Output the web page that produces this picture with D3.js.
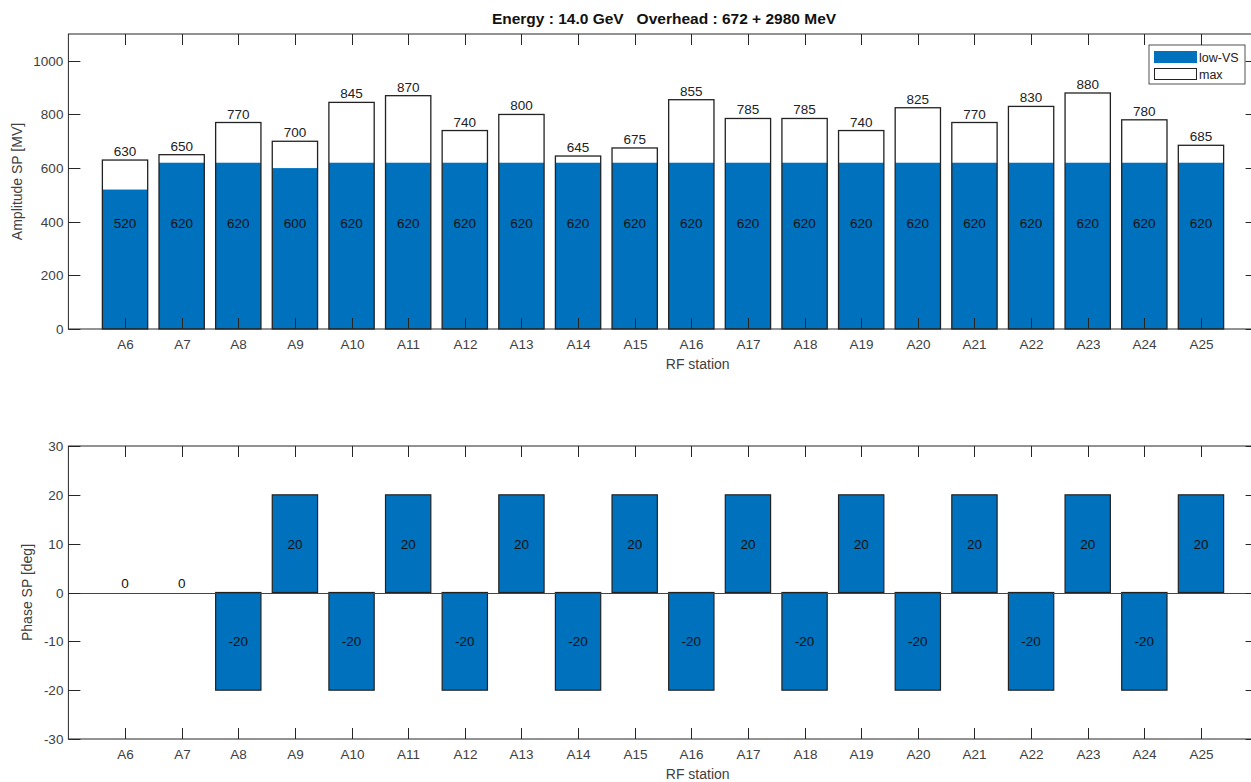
<!DOCTYPE html>
<html><head><meta charset="utf-8">
<script src="https://cdn.jsdelivr.net/npm/d3@7"></script>
<style>body{margin:0;background:#fff}svg{display:block}text{font-family:"Liberation Sans",Arial,sans-serif}</style>
</head><body><svg id="c" width="1251" height="782"></svg>
<script>
const stations = ["A6","A7","A8","A9","A10","A11","A12","A13","A14","A15","A16","A17","A18","A19","A20","A21","A22","A23","A24","A25"];
const lowVS = [520,620,620,600,620,620,620,620,620,620,620,620,620,620,620,620,620,620,620,620];
const maxAmp = [630,650,770,700,845,870,740,800,645,675,855,785,785,740,825,770,830,880,780,685];
const phase = [0,0,-20,20,-20,20,-20,20,-20,20,-20,20,-20,20,-20,20,-20,20,-20,20];
const ampTicks = [0,200,400,600,800,1000];
const phaseTicks = [-30,-20,-10,0,10,20,30];
const titleText = "Energy : 14.0 GeV   Overhead : 672 + 2980 MeV";

const svg = d3.select("#c");
const axCol = "#262626", txtCol = "#404040", blue = "#0072BD";
const L = 68.4, R = 1257.6, step = (R - L) / 21;
const x = d3.scaleBand().domain(stations).range([L + step/2, R - step/2]).paddingInner(0.2).paddingOuter(0.1);
const bw = x.bandwidth();

function frame(g, y, top, bottom, ticks) {
  g.append("rect").attr("x", L).attr("y", top).attr("width", R - L).attr("height", bottom - top)
    .attr("fill", "none").attr("stroke", axCol).attr("stroke-width", 1);
  stations.forEach(s => {
    const cx = Math.round(x(s) + bw/2) + 0.5;
    g.append("line").attr("x1", cx).attr("x2", cx).attr("y1", bottom).attr("y2", bottom - 11).attr("stroke", axCol);
    g.append("line").attr("x1", cx).attr("x2", cx).attr("y1", top).attr("y2", top + 11).attr("stroke", axCol);
    g.append("text").attr("x", cx).attr("y", bottom + 20).attr("text-anchor", "middle")
      .attr("font-size", 13.5).attr("fill", txtCol).text(s);
  });
  ticks.forEach(t => {
    const yy = Math.round(y(t)) + 0.5;
    g.append("line").attr("x1", L).attr("x2", L + 12).attr("y1", yy).attr("y2", yy).attr("stroke", axCol);
    g.append("line").attr("x1", R).attr("x2", R - 12).attr("y1", yy).attr("y2", yy).attr("stroke", axCol);
    g.append("text").attr("x", L - 5).attr("y", yy + 4.5).attr("text-anchor", "end")
      .attr("font-size", 13.5).attr("fill", txtCol).text(t);
  });
  g.append("text").attr("x", (L + 1251) / 2 + 38).attr("y", bottom + 40).attr("text-anchor", "middle")
    .attr("font-size", 14).attr("fill", txtCol).text("RF station");
}

// ---------- Top: amplitude ----------
const yA = d3.scaleLinear().domain([0, 1100]).range([329, 34]);
const gA = svg.append("g");
gA.selectAll("rect.max").data(maxAmp).join("rect")
  .attr("x", (d,i) => x(stations[i])).attr("width", bw)
  .attr("y", d => yA(d)).attr("height", d => yA(0) - yA(d))
  .attr("fill", "#fff");
gA.selectAll("rect.low").data(lowVS).join("rect")
  .attr("x", (d,i) => x(stations[i])).attr("width", bw)
  .attr("y", d => yA(d)).attr("height", d => yA(0) - yA(d))
  .attr("fill", blue);
gA.selectAll("rect.out").data(maxAmp).join("rect")
  .attr("x", (d,i) => x(stations[i])).attr("width", bw)
  .attr("y", d => yA(d)).attr("height", d => yA(0) - yA(d))
  .attr("fill", "none").attr("stroke", "#222").attr("stroke-width", 1.3);
gA.selectAll("text.mx").data(maxAmp).join("text")
  .attr("x", (d,i) => x(stations[i]) + bw/2).attr("y", d => yA(d) - 4)
  .attr("text-anchor", "middle").attr("font-size", 13.5).attr("fill", "#222").text(d => d);
gA.selectAll("text.lw").data(lowVS).join("text")
  .attr("x", (d,i) => x(stations[i]) + bw/2).attr("y", yA(395) + 5)
  .attr("text-anchor", "middle").attr("font-size", 13.5).attr("fill", "#111").text(d => d);
frame(gA, yA, 34, 329, ampTicks);
gA.append("text").attr("transform", `translate(22,${(34+329)/2}) rotate(-90)`).attr("text-anchor", "middle")
  .attr("font-size", 14).attr("fill", txtCol).text("Amplitude SP [MV]");
svg.append("text").attr("x", 664).attr("y", 24).attr("text-anchor", "middle")
  .attr("font-size", 15.5).attr("font-weight", "bold").attr("fill", "#111")
  .attr("xml:space", "preserve").style("white-space", "pre").text(titleText);

// legend
const lg = svg.append("g").attr("transform", "translate(1149,45)");
lg.append("rect").attr("width", 96).attr("height", 39).attr("fill", "#fff").attr("stroke", axCol).attr("stroke-width", 0.8);
lg.append("rect").attr("x", 5).attr("y", 6).attr("width", 43).attr("height", 12).attr("fill", blue);
lg.append("rect").attr("x", 5.5).attr("y", 23.5).attr("width", 42).attr("height", 11).attr("fill", "#fff").attr("stroke", "#222");
lg.append("text").attr("x", 50).attr("y", 16.5).attr("font-size", 12.5).attr("fill", "#222").text("low-VS");
lg.append("text").attr("x", 50).attr("y", 33.5).attr("font-size", 12.5).attr("fill", "#222").text("max");

// ---------- Bottom: phase ----------
const yP = d3.scaleLinear().domain([-30, 30]).range([739, 446]);
const gP = svg.append("g");
gP.selectAll("rect.ph").data(phase).join("rect")
  .attr("x", (d,i) => x(stations[i])).attr("width", bw)
  .attr("y", d => yP(Math.max(0, d))).attr("height", d => Math.abs(yP(d) - yP(0)))
  .attr("fill", blue).attr("stroke", "#222").attr("stroke-width", 1.2)
  .style("display", d => d === 0 ? "none" : null);
gP.append("line").attr("x1", L).attr("x2", R).attr("y1", Math.round(yP(0)) + 0.5).attr("y2", Math.round(yP(0)) + 0.5)
  .attr("stroke", "#444").attr("stroke-width", 1);
gP.selectAll("text.pv").data(phase).join("text")
  .attr("x", (d,i) => x(stations[i]) + bw/2)
  .attr("y", d => d === 0 ? yP(0) - 5 : yP(d/2) + 5)
  .attr("text-anchor", "middle").attr("font-size", 13.5).attr("fill", "#111").text(d => d);
frame(gP, yP, 446, 739, phaseTicks);
gP.append("text").attr("transform", `translate(32,${(446+739)/2}) rotate(-90)`).attr("text-anchor", "middle")
  .attr("font-size", 14).attr("fill", txtCol).text("Phase SP [deg]");
</script></body></html>
